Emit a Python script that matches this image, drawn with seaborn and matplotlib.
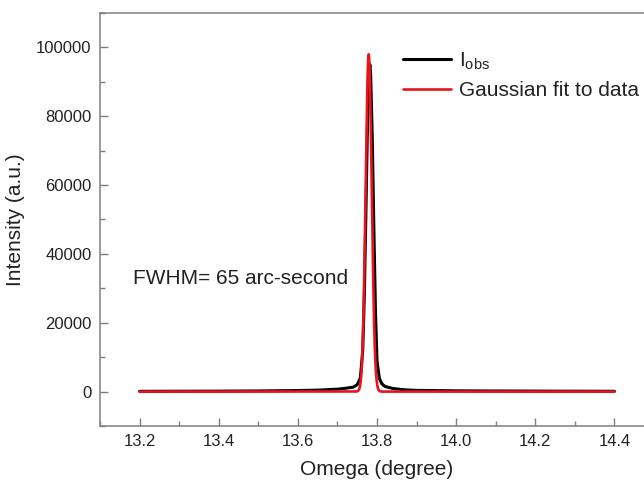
import numpy as np
import pandas as pd
import matplotlib
matplotlib.use("Agg")
import matplotlib.pyplot as plt
from matplotlib.ticker import MultipleLocator
import seaborn as sns

# Measured rocking curve (omega scan)
omega_obs = [13.200, 13.300, 13.400, 13.500, 13.600, 13.650, 13.700, 13.720,
             13.740, 13.750, 13.758, 13.764, 13.768, 13.772, 13.776, 13.780,
             13.782, 13.784, 13.788, 13.792, 13.796, 13.800, 13.806, 13.812,
             13.820, 13.840, 13.870, 13.900, 14.000, 14.100, 14.200, 14.300,
             14.400]
intensity_obs = [80, 100, 130, 180, 300, 420, 700, 950,
                 1300, 2000, 4000, 12000, 28000, 52000, 78000, 93000,
                 95000, 92000, 74000, 48000, 24000, 9000, 3800, 2300,
                 1500, 900, 500, 350, 220, 170, 140, 110,
                 90]

# Gaussian fit parameters
fit_center = 13.779        # degree
fit_amplitude = 98000      # a.u.
fwhm_arcsec = 65           # arc-second
omega_range = (13.2, 14.4)

sigma = (fwhm_arcsec / 3600.0) / (2.0 * np.sqrt(2.0 * np.log(2.0)))
omega_fit = np.linspace(omega_range[0], omega_range[1], 4001)
intensity_fit = fit_amplitude * np.exp(-0.5 * ((omega_fit - fit_center) / sigma) ** 2)

obs = pd.DataFrame({"omega": omega_obs, "intensity": intensity_obs})
fit = pd.DataFrame({"omega": omega_fit, "intensity": intensity_fit})

sns.set_theme(style="white")
plt.rcParams["font.family"] = ["Liberation Sans", "DejaVu Sans"]
plt.rcParams["mathtext.fontset"] = "custom"
plt.rcParams["mathtext.rm"] = "Liberation Sans"
plt.rcParams["mathtext.it"] = "Liberation Sans"

fig = plt.figure(figsize=(6.44, 4.87), dpi=100)
ax = fig.add_axes([100 / 644, 61 / 487, 554 / 644, 413 / 487])

sns.lineplot(data=obs, x="omega", y="intensity", ax=ax, color="black",
             linewidth=2.2, label=r"I$_{\mathrm{obs}}$")
sns.lineplot(data=fit, x="omega", y="intensity", ax=ax, color="#e8141c",
             linewidth=1.9, label="Gaussian fit to data")

ax.set_xlim(13.1, 14.5)
ax.set_ylim(-10000, 110000)
ax.xaxis.set_minor_locator(MultipleLocator(0.1))
ax.yaxis.set_major_locator(MultipleLocator(20000))
ax.yaxis.set_minor_locator(MultipleLocator(10000))
ax.set_xticks([13.2, 13.4, 13.6, 13.8, 14.0, 14.2, 14.4])
ax.set_xticklabels(["13.2", "13.4", "13.6", "13.8", "14.0", "14.2", "14.4"])

spine_color = "#7f7f7f"
for s in ax.spines.values():
    s.set_color(spine_color)
    s.set_linewidth(1.1)

ax.tick_params(which="both", direction="in", color=spine_color, width=1.0,
               labelsize=12, labelcolor="#222222", pad=6)
ax.tick_params(which="major", length=6)
ax.tick_params(which="minor", length=3.5)
ax.tick_params(axis="both", which="both", bottom=True, left=True, top=False, right=False)

ax.set_xlabel("Omega (degree)", fontsize=15, color="#222222", labelpad=8)
ax.set_ylabel("Intensity (a.u.)", fontsize=15, color="#222222", labelpad=8)

ax.text(13.183, 33000, "FWHM= 65 arc-second", fontsize=15, color="#222222",
        ha="left", va="center")

leg = ax.legend(loc="upper left", bbox_to_anchor=(393 / 644, 1 - 40 / 487),
                bbox_transform=fig.transFigure, frameon=False, fontsize=15,
                handlelength=2.3, handletextpad=0.35, labelspacing=0.45,
                borderpad=0.0)
for t in leg.get_texts():
    t.set_color("#222222")

fig.savefig("out.png", dpi=100)
